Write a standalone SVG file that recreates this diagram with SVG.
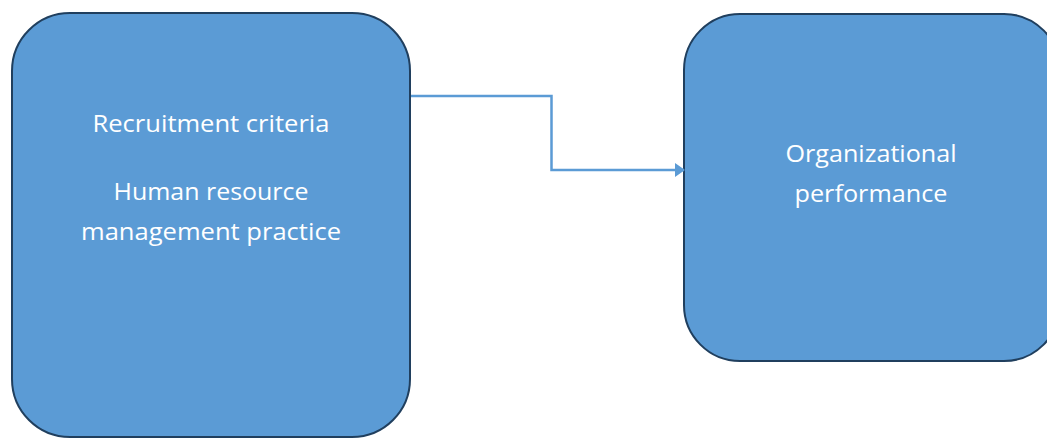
<svg xmlns="http://www.w3.org/2000/svg" width="1047" height="438" viewBox="0 0 1047 438">
<style>
.box{fill:#5b9bd5;stroke:#203f5e;stroke-width:2}
.lbl{font-family:"Open Sans","Liberation Sans",sans-serif;font-size:24px;fill:#ffffff;text-anchor:middle}
.conn{fill:none;stroke:#5b9bd5;stroke-width:2.5}
</style>
<defs>
<marker id="arrow" markerWidth="10" markerHeight="14" refX="9" refY="7" orient="auto" markerUnits="userSpaceOnUse">
<path d="M0,0 L10,7 L0,14 Z" fill="#5b9bd5"/>
</marker>
</defs>
<g id="node-left">
<rect class="box" x="12" y="13" width="398" height="424" rx="58" ry="58"/>
<text class="lbl" x="211" y="132" textLength="237" lengthAdjust="spacingAndGlyphs">Recruitment criteria</text>
<text class="lbl" x="211" y="200" textLength="195" lengthAdjust="spacingAndGlyphs">Human resource</text>
<text class="lbl" x="211" y="240" textLength="260" lengthAdjust="spacingAndGlyphs">management practice</text>
</g>
<g id="node-right">
<rect class="box" x="684" y="14" width="376" height="347" rx="56" ry="56"/>
<text class="lbl" x="871" y="162" textLength="171" lengthAdjust="spacingAndGlyphs">Organizational</text>
<text class="lbl" x="871" y="202" textLength="153" lengthAdjust="spacingAndGlyphs">performance</text>
</g>
<g id="connectors">
<polyline class="conn" points="411,96 551.5,96 551.5,170 684,170" marker-end="url(#arrow)"/>
</g>
</svg>
